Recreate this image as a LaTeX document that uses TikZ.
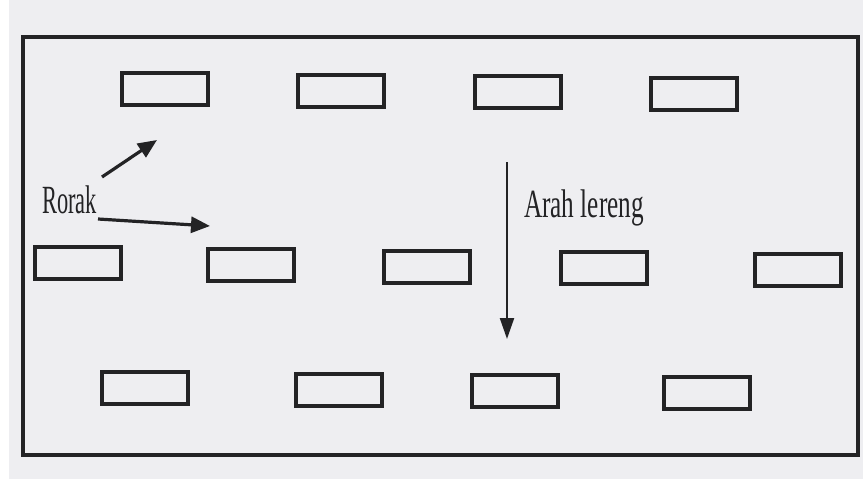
\documentclass[tikz,border=0pt]{standalone}
\usepackage{fontspec}
\setmainfont{Liberation Serif}
\usetikzlibrary{arrows.meta}
\definecolor{ink}{HTML}{232325}
\definecolor{paper}{HTML}{EEEEF1}

\tikzset{
    pit/.style={draw=ink, line width=3.4pt, minimum width=86pt, minimum height=32pt, inner sep=0pt},
    lbl/.style={inner sep=0pt, text=ink, font=\fontsize{40}{44}\selectfont},
    pointer/.style={draw=ink, line width=3.2pt, -{Triangle[length=19pt,width=16pt]}}
}

\begin{document}
\begin{tikzpicture}[x=1pt,y=-1pt]
    \useasboundingbox (0,0) rectangle (863,479);
    \fill[paper] (9,0) rectangle (863,479);

    % field border
    \draw[ink, line width=3.2pt] (23,37) rectangle (858,455);

    % rows of rorak pits
    \foreach \x/\y [count=\i] in {165/89, 341/91, 518/92, 694/94} {
        \node[pit] (top\i) at (\x,\y) {};
    }
    \foreach \x/\y [count=\i] in {78/263, 251/265, 427/267, 604/268, 798/270} {
        \node[pit] (mid\i) at (\x,\y) {};
    }
    \foreach \x/\y [count=\i] in {145/388, 339/390, 515/391, 707/393} {
        \node[pit] (low\i) at (\x,\y) {};
    }

    % labels
    \node[lbl, anchor=base west] (rorak) at (42,213) {\scalebox{0.56}[1]{Rorak}};
    \node[lbl, anchor=base west] (arah) at (524,217) {\scalebox{0.63}[1]{Arah lereng}};

    % arrows
    \coordinate (d0) at (102,177);
    \coordinate (d1) at (157,140);
    \coordinate (h0) at (98,219);
    \coordinate (h1) at (210,226);
    \coordinate (v0) at (507,162);
    \coordinate (v1) at (507,339);
    \draw[pointer] (d0) -- (d1);
    \draw[pointer] (h0) -- (h1);
    \draw[pointer, line width=2.2pt, -{Triangle[length=21pt,width=14pt]}] (v0) -- (v1);
\end{tikzpicture}
\end{document}
